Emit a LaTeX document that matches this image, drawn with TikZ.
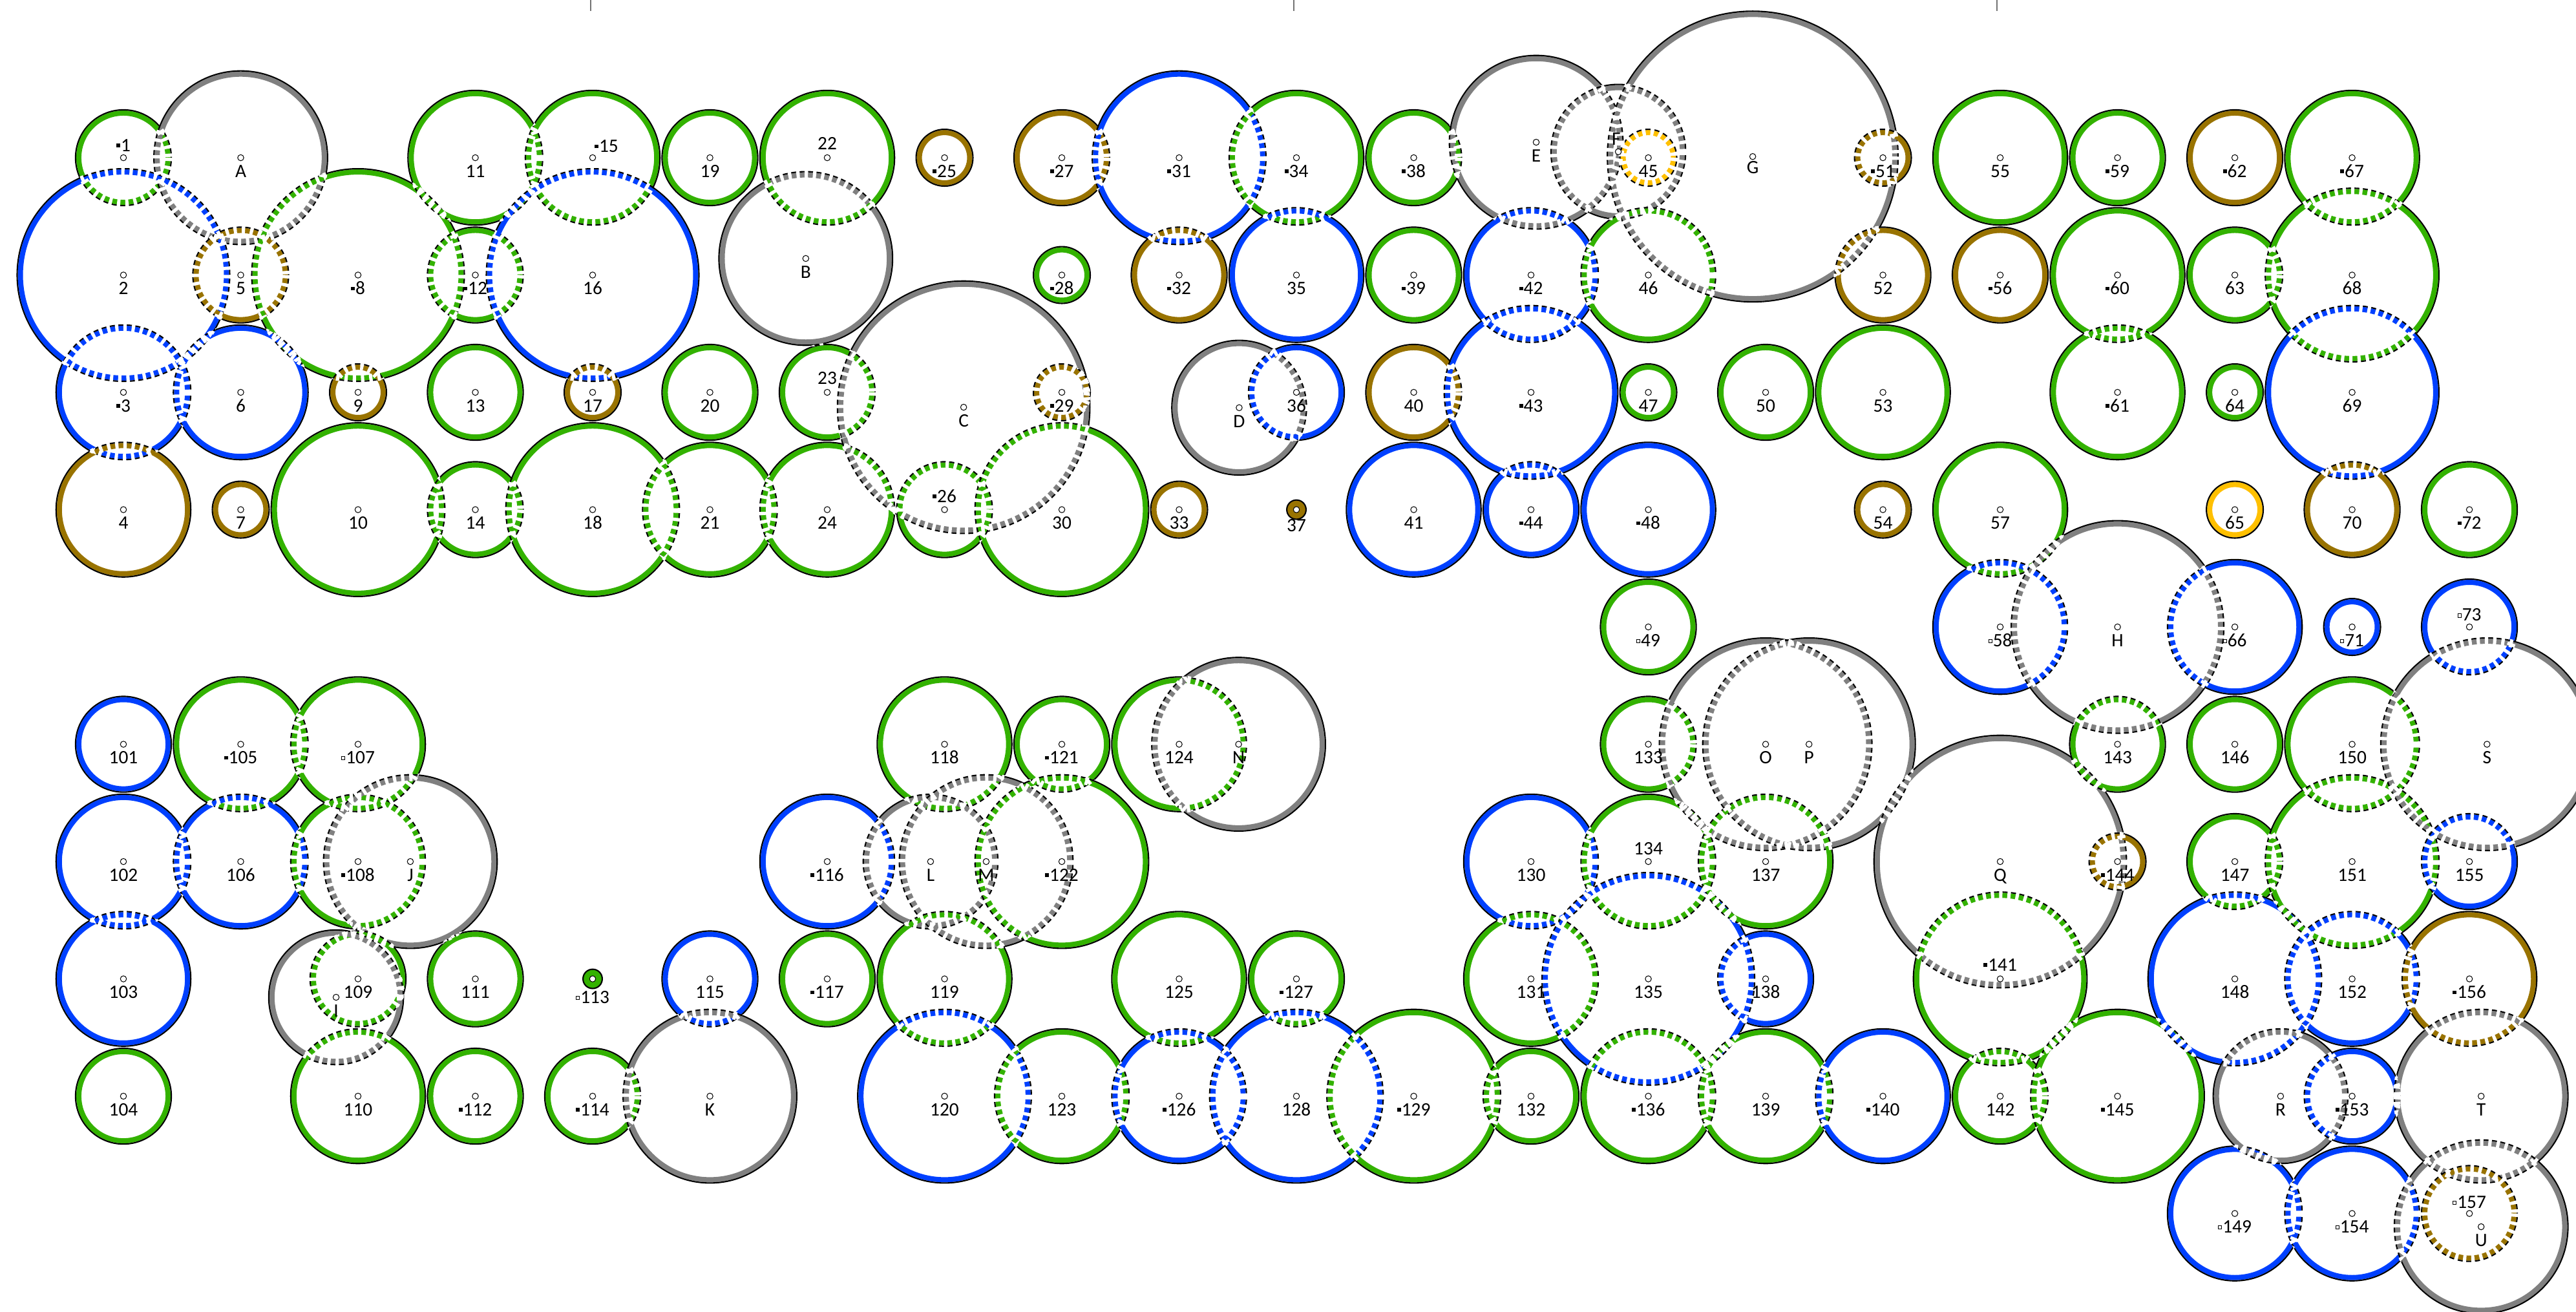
\documentclass[tikz,border=0pt]{standalone}
\usepackage{fontspec}
\newfontfamily\labfamily{Carlito}
\newcommand\labfont{\labfamily\fontsize{4.6pt}{5pt}\selectfont}
\definecolor{cg}{RGB}{51,178,0}
\definecolor{cb}{RGB}{0,64,255}
\definecolor{cn}{RGB}{153,115,0}
\definecolor{ca}{RGB}{128,128,128}
\definecolor{cy}{RGB}{255,192,0}
\newcommand\fs{\rule[0.22em]{0.2em}{0.2em}\kern0.04em}
\newcommand\hs{\raisebox{0.22em}{\fboxsep=0pt\fboxrule=0.12pt\fbox{\rule{0pt}{0.15em}\rule{0.15em}{0pt}}}\kern0.04em}
\makeatletter
\def\mm#1{\strip@pt\dimexpr#1sp*65536/1000\relax}
\makeatother
% \C{id}{x}{y}{r}{colour}{label}{dx}{dy}   (milli grid units)
\def\CircData{%
\C{1}{0}{0}{414}{cg}{\fs 1}{0}{-55}%
\C{201}{1000}{0}{746}{ca}{A}{0}{167}%
\C{2}{0}{1000}{912}{cb}{2}{0}{167}%
\C{5}{1000}{1000}{414}{cn}{5}{0}{167}%
\C{8}{2000}{1000}{912}{cg}{\fs 8}{0}{167}%
\C{3}{0}{2000}{580}{cb}{\fs 3}{0}{167}%
\C{6}{1000}{2000}{580}{cb}{6}{0}{167}%
\C{9}{2000}{2000}{248}{cn}{9}{0}{167}%
\C{4}{0}{3000}{580}{cn}{4}{0}{167}%
\C{7}{1000}{3000}{248}{cn}{7}{0}{167}%
\C{10}{2000}{3000}{746}{cg}{10}{0}{167}%
\C{11}{3000}{0}{580}{cg}{11}{0}{167}%
\C{12}{3000}{1000}{414}{cg}{\fs 12}{0}{167}%
\C{13}{3000}{2000}{414}{cg}{13}{0}{167}%
\C{14}{3000}{3000}{414}{cg}{14}{0}{167}%
\C{15}{4000}{0}{580}{cg}{\fs 15}{118}{-45}%
\C{16}{4000}{1000}{912}{cb}{16}{0}{167}%
\C{17}{4000}{2000}{248}{cn}{17}{0}{167}%
\C{18}{4000}{3000}{746}{cg}{18}{0}{167}%
\C{19}{5000}{0}{414}{cg}{19}{0}{167}%
\C{202}{5817}{859}{746}{ca}{B}{0}{167}%
\C{20}{5000}{2000}{414}{cg}{20}{0}{167}%
\C{21}{5000}{3000}{580}{cg}{21}{0}{167}%
\C{22}{6000}{0}{580}{cg}{22}{0}{-70}%
\C{23}{6000}{2000}{414}{cg}{23}{0}{-70}%
\C{24}{6000}{3000}{580}{cg}{24}{0}{167}%
\C{203}{7163}{2127}{1082}{ca}{C}{0}{167}%
\C{25}{7000}{0}{248}{cn}{\fs 25}{0}{167}%
\C{26}{7000}{3000}{414}{cg}{\fs 26}{0}{-60}%
\C{27}{8000}{0}{414}{cn}{\fs 27}{0}{167}%
\C{28}{8000}{1000}{248}{cg}{\fs 28}{0}{167}%
\C{29}{8000}{2000}{248}{cn}{\fs 29}{0}{167}%
\C{30}{8000}{3000}{746}{cg}{30}{0}{167}%
\C{31}{9000}{0}{746}{cb}{\fs 31}{0}{167}%
\C{32}{9000}{1000}{414}{cn}{\fs 32}{0}{167}%
\C{33}{9000}{3000}{248}{cn}{33}{0}{167}%
\C{204}{9512}{2131}{580}{ca}{D}{0}{167}%
\C{34}{10000}{0}{580}{cg}{\fs 34}{0}{167}%
\C{35}{10000}{1000}{580}{cb}{35}{0}{167}%
\C{36}{10000}{2000}{414}{cb}{36}{0}{167}%
\C{37}{10000}{3000}{88}{cn}{37}{0}{186}%
\C{38}{11000}{0}{414}{cg}{\fs 38}{0}{167}%
\C{39}{11000}{1000}{414}{cg}{\fs 39}{0}{167}%
\C{40}{11000}{2000}{414}{cn}{40}{0}{167}%
\C{41}{11000}{3000}{580}{cb}{41}{0}{167}%
\C{205}{12044}{-132}{746}{ca}{E}{0}{167}%
\C{206}{12744}{-51}{580}{ca}{F}{-18}{-56}%
\C{42}{12000}{1000}{580}{cb}{\fs 42}{0}{167}%
\C{43}{12000}{2000}{746}{cb}{\fs 43}{0}{167}%
\C{44}{12000}{3000}{414}{cb}{\fs 44}{0}{167}%
\C{45}{13000}{0}{248}{cy}{45}{0}{167}%
\C{46}{13000}{1000}{580}{cg}{46}{0}{167}%
\C{47}{13000}{2000}{248}{cg}{47}{0}{167}%
\C{48}{13000}{3000}{580}{cb}{\fs 48}{0}{167}%
\C{49}{13000}{4000}{414}{cg}{\hs 49}{0}{167}%
\C{207}{13890}{-10}{1245}{ca}{G}{0}{147}%
\C{50}{14000}{2000}{414}{cg}{50}{0}{167}%
\C{51}{15000}{0}{248}{cn}{\fs 51}{0}{167}%
\C{52}{15000}{1000}{414}{cn}{52}{0}{167}%
\C{53}{15000}{2000}{580}{cg}{53}{0}{167}%
\C{54}{15000}{3000}{248}{cn}{54}{0}{167}%
\C{55}{16000}{0}{580}{cg}{55}{0}{167}%
\C{56}{16000}{1000}{414}{cn}{\fs 56}{0}{167}%
\C{57}{16000}{3000}{580}{cg}{57}{0}{167}%
\C{58}{16000}{4000}{580}{cb}{\hs 58}{0}{167}%
\C{59}{17000}{0}{414}{cg}{\fs 59}{0}{167}%
\C{60}{17000}{1000}{580}{cg}{\fs 60}{0}{167}%
\C{61}{17000}{2000}{580}{cg}{\fs 61}{0}{167}%
\C{208}{17000}{4000}{912}{ca}{H}{0}{167}%
\C{62}{18000}{0}{414}{cn}{\fs 62}{0}{167}%
\C{63}{18000}{1000}{414}{cg}{63}{0}{167}%
\C{64}{18000}{2000}{248}{cg}{64}{0}{167}%
\C{65}{18000}{3000}{248}{cy}{65}{0}{167}%
\C{66}{18000}{4000}{580}{cb}{\hs 66}{0}{167}%
\C{67}{19000}{0}{580}{cg}{\fs 67}{0}{167}%
\C{68}{19000}{1000}{746}{cg}{68}{0}{167}%
\C{69}{19000}{2000}{746}{cb}{69}{0}{167}%
\C{70}{19000}{3000}{414}{cn}{70}{0}{167}%
\C{71}{19000}{4000}{248}{cb}{\hs 71}{0}{167}%
\C{72}{20000}{3000}{414}{cg}{\fs 72}{0}{167}%
\C{73}{20000}{4000}{414}{cb}{\hs 73}{0}{-50}%
\C{101}{0}{5000}{414}{cb}{101}{0}{167}%
\C{102}{0}{6000}{580}{cb}{102}{0}{167}%
\C{103}{0}{7000}{580}{cb}{103}{0}{167}%
\C{104}{0}{8000}{414}{cg}{104}{0}{167}%
\C{105}{1000}{5000}{580}{cg}{\fs 105}{0}{167}%
\C{106}{1000}{6000}{580}{cb}{106}{0}{167}%
\C{107}{2000}{5000}{580}{cg}{\hs 107}{0}{167}%
\C{108}{2000}{6000}{580}{cg}{\fs 108}{0}{167}%
\C{210}{2446}{6000}{746}{ca}{J}{0}{167}%
\C{109}{2000}{7000}{414}{cg}{109}{0}{167}%
\C{209}{1813}{7157}{580}{ca}{I}{0}{167}%
\C{110}{2000}{8000}{580}{cg}{110}{0}{167}%
\C{111}{3000}{7000}{414}{cg}{111}{0}{167}%
\C{112}{3000}{8000}{414}{cg}{\fs 112}{0}{167}%
\C{113}{4000}{7000}{88}{cg}{\hs 113}{0}{210}%
\C{114}{4000}{8000}{414}{cg}{\fs 114}{0}{167}%
\C{115}{5000}{7000}{414}{cb}{115}{0}{167}%
\C{211}{5000}{8000}{746}{ca}{K}{0}{167}%
\C{116}{6000}{6000}{580}{cb}{\fs 116}{0}{167}%
\C{117}{6000}{7000}{414}{cg}{\fs 117}{0}{167}%
\C{118}{7000}{5000}{580}{cg}{118}{0}{167}%
\C{212}{6881}{6000}{580}{ca}{L}{0}{167}%
\C{213}{7355}{6000}{746}{ca}{M}{0}{167}%
\C{119}{7000}{7000}{580}{cg}{119}{0}{167}%
\C{120}{7000}{8000}{746}{cb}{120}{0}{167}%
\C{121}{8000}{5000}{414}{cg}{\fs 121}{0}{167}%
\C{122}{8000}{6000}{746}{cg}{\fs 122}{0}{167}%
\C{123}{8000}{8000}{580}{cg}{123}{0}{167}%
\C{124}{9000}{5000}{580}{cg}{124}{0}{167}%
\C{214}{9507}{5000}{746}{ca}{N}{0}{167}%
\C{125}{9000}{7000}{580}{cg}{125}{0}{167}%
\C{126}{9000}{8000}{580}{cb}{\fs 126}{0}{167}%
\C{127}{10000}{7000}{414}{cg}{\fs 127}{0}{167}%
\C{128}{10000}{8000}{746}{cb}{128}{0}{167}%
\C{129}{11000}{8000}{746}{cg}{\fs 129}{0}{167}%
\C{130}{12000}{6000}{580}{cb}{130}{0}{167}%
\C{131}{12000}{7000}{580}{cg}{131}{0}{167}%
\C{132}{12000}{8000}{414}{cg}{132}{0}{167}%
\C{133}{13000}{5000}{414}{cg}{133}{0}{167}%
\C{134}{13000}{6000}{580}{cg}{134}{0}{-60}%
\C{135}{13000}{7000}{912}{cb}{135}{0}{167}%
\C{136}{13000}{8000}{580}{cg}{\fs 136}{0}{167}%
\C{215}{14000}{5000}{912}{ca}{O}{0}{167}%
\C{216}{14370}{5000}{912}{ca}{P}{0}{167}%
\C{137}{14000}{6000}{580}{cg}{137}{0}{167}%
\C{138}{14000}{7000}{414}{cb}{138}{0}{167}%
\C{139}{14000}{8000}{580}{cg}{139}{0}{167}%
\C{140}{15000}{8000}{580}{cb}{\fs 140}{0}{167}%
\C{217}{16000}{6000}{1082}{ca}{Q}{0}{167}%
\C{141}{16000}{7000}{746}{cg}{\fs 141}{0}{-65}%
\C{142}{16000}{8000}{414}{cg}{142}{0}{167}%
\C{143}{17000}{5000}{414}{cg}{143}{0}{167}%
\C{144}{17000}{6000}{248}{cn}{\fs 144}{0}{167}%
\C{145}{17000}{8000}{746}{cg}{\fs 145}{0}{167}%
\C{146}{18000}{5000}{414}{cg}{146}{0}{167}%
\C{147}{18000}{6000}{414}{cg}{147}{0}{167}%
\C{148}{18000}{7000}{746}{cb}{148}{0}{167}%
\C{149}{18000}{9000}{580}{cb}{\hs 149}{0}{167}%
\C{218}{18390}{8000}{580}{ca}{R}{0}{167}%
\C{150}{19000}{5000}{580}{cg}{150}{0}{167}%
\C{151}{19000}{6000}{746}{cg}{151}{0}{167}%
\C{152}{19000}{7000}{580}{cb}{152}{0}{167}%
\C{153}{19000}{8000}{414}{cb}{\fs 153}{0}{167}%
\C{154}{19000}{9000}{580}{cb}{\hs 154}{0}{167}%
\C{219}{20150}{5000}{912}{ca}{S}{0}{167}%
\C{155}{20000}{6000}{414}{cb}{155}{0}{167}%
\C{156}{20000}{7000}{580}{cn}{\fs 156}{0}{167}%
\C{220}{20100}{8000}{746}{ca}{T}{0}{167}%
\C{221}{20100}{9113}{746}{ca}{U}{0}{167}%
\C{157}{20000}{9000}{414}{cn}{\hs 157}{0}{-45}%
}
\tikzset{
  ringline/.style={line width=1.25pt},
  rimline/.style={line width=0.33pt, draw=black},
  gapline/.style={draw=white, line width=1.95pt, dash pattern=on 0.8pt off 1.2pt},
  ctr/.style={line width=0.16pt, draw=black, fill=white},
  labtext/.style={font=\labfont, inner sep=0pt, anchor=base},
  tickline/.style={draw=black!55, line width=0.2pt}
}
\def\Cin#1#2#3#4#5#6#7#8{%
  \ifnum#1=\cid\relax\else
    \ifnum\numexpr(#2-\cx)*(#2-\cx)+(#3-\cy)*(#3-\cy)\relax<\numexpr(#4+\cr)*(#4+\cr)\relax
      \draw[gapline] (\mm{#2},\mm{#3}) circle[radius={\mm{#4}-0.0281}];
    \fi
  \fi}
\begin{document}
\begin{tikzpicture}[x=1cm,y=-1cm]
\fill[white] (-1.0523,-1.3444) rectangle (20.909,9.835);
\useasboundingbox (-1.0523,-1.3444) rectangle (20.909,9.835);
\coordinate (t1a) at (3.983,-1.3444); \coordinate (t1b) at (3.983,-1.25);
\coordinate (t2a) at (9.978,-1.3444); \coordinate (t2b) at (9.978,-1.25);
\coordinate (t3a) at (15.972,-1.3444); \coordinate (t3b) at (15.972,-1.25);
\draw[tickline] (t1a) -- (t1b);
\draw[tickline] (t2a) -- (t2b);
\draw[tickline] (t3a) -- (t3b);
% pass 1: solid rings
\def\C#1#2#3#4#5#6#7#8{%
  \ifnum#4<100
    \fill[#5] (\mm{#2},\mm{#3}) circle[radius={\mm{#4}-0.004}];
    \draw[rimline] (\mm{#2},\mm{#3}) circle[radius={\mm{#4}-0.0058}];
  \else
    \draw[ringline,#5] (\mm{#2},\mm{#3}) circle[radius={\mm{#4}-0.0336}];
    \draw[rimline] (\mm{#2},\mm{#3}) circle[radius={\mm{#4}-0.0058}];
  \fi}
\CircData
% pass 2: dashes where a ring lies inside another circle
\def\C#1#2#3#4#5#6#7#8{%
  \begin{scope}
    \clip (\mm{#2},\mm{#3}) circle[radius={\mm{#4}}];
    \def\cid{#1}\def\cx{#2}\def\cy{#3}\def\cr{#4}%
    \let\C\Cin
    \CircData
  \end{scope}}
\CircData
% pass 3: centre marks and labels
\def\C#1#2#3#4#5#6#7#8{%
  \draw[ctr] (\mm{#2},\mm{#3}) circle[radius=0.026];
  \node[labtext] (n#1) at ({\mm{#2}+\mm{#7}},{\mm{#3}+\mm{#8}}) {#6};}
\CircData
\end{tikzpicture}
\end{document}
